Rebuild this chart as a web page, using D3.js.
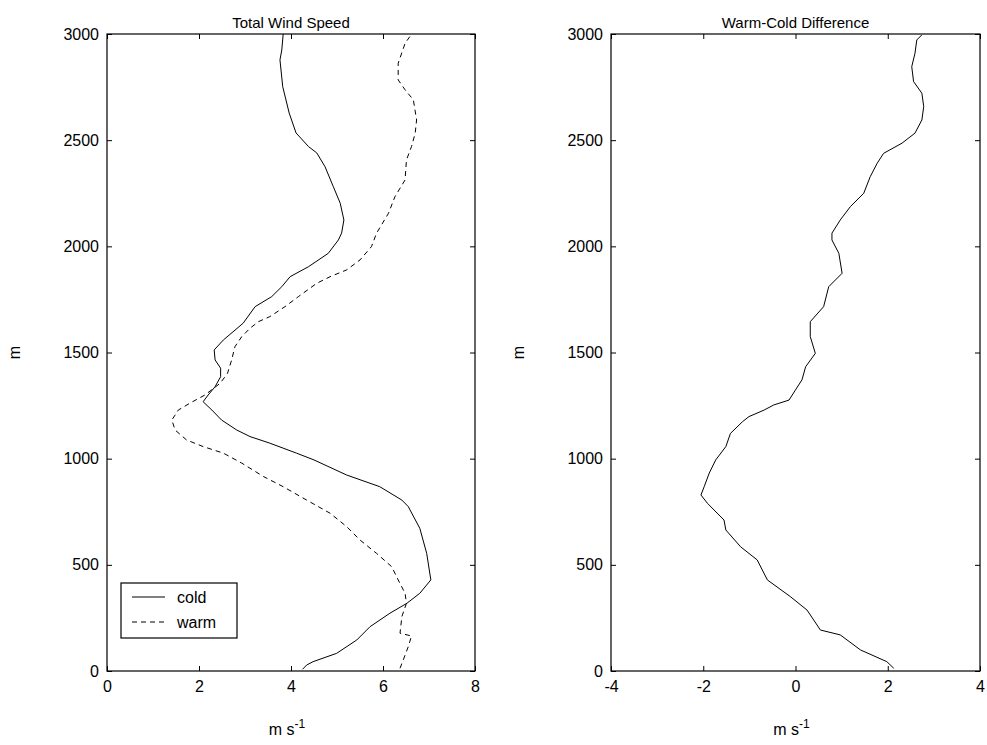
<!DOCTYPE html>
<html>
<head>
<meta charset="utf-8">
<script src="https://cdn.jsdelivr.net/npm/d3@7"></script>
<style>
  body { margin: 0; background: #fff; }
  svg text { font-family: "Liberation Sans", Arial, sans-serif; fill: #000; }
</style>
</head>
<body>
<svg id="fig" width="987" height="745"></svg>
<script>
// ---- data ----
var xTicksSpeed = [0, 2, 4, 6, 8];
var xTicksDiff = [-4, -2, 0, 2, 4];
var yTicks = [0, 500, 1000, 1500, 2000, 2500, 3000];
var legendLabels = ['cold', 'warm'];

// cold: [height m, speed m/s]
var coldHeight = [8, 28, 44, 83, 146, 209, 272, 319, 366, 429, 554, 672, 774, 805, 868, 923, 994, 1026, 1073, 1104, 1135, 1182, 1229, 1268, 1300, 1339, 1386, 1426, 1465, 1512, 1559, 1638, 1716, 1763, 1810, 1857, 1904, 1967, 2030, 2062, 2124, 2203, 2281, 2375, 2440, 2470, 2534, 2628, 2752, 2878, 2925, 3000];
var coldSpeed = [4.25, 4.34, 4.48, 4.99, 5.43, 5.72, 6.15, 6.52, 6.80, 7.04, 6.95, 6.80, 6.55, 6.41, 5.93, 5.21, 4.50, 4.12, 3.54, 3.11, 2.82, 2.49, 2.28, 2.09, 2.20, 2.35, 2.47, 2.47, 2.35, 2.33, 2.53, 2.96, 3.22, 3.58, 3.80, 3.98, 4.38, 4.81, 5.03, 5.10, 5.15, 5.07, 4.92, 4.74, 4.56, 4.38, 4.11, 3.96, 3.82, 3.76, 3.80, 3.83];

// warm
var warmHeight = [13, 52, 115, 165, 178, 256, 319, 366, 429, 491, 554, 617, 680, 743, 805, 868, 916, 979, 1026, 1057, 1088, 1135, 1182, 1229, 1261, 1300, 1355, 1402, 1465, 1527, 1575, 1614, 1645, 1669, 1716, 1763, 1826, 1857, 1889, 1936, 1999, 2062, 2156, 2234, 2313, 2407, 2470, 2533, 2595, 2690, 2737, 2784, 2862, 2956, 2990];
var warmSpeed = [6.37, 6.44, 6.55, 6.62, 6.37, 6.41, 6.51, 6.48, 6.33, 6.19, 5.86, 5.50, 5.21, 4.85, 4.34, 3.83, 3.40, 2.93, 2.53, 2.09, 1.73, 1.48, 1.41, 1.55, 1.80, 2.13, 2.46, 2.62, 2.71, 2.78, 2.93, 3.11, 3.29, 3.54, 3.87, 4.16, 4.56, 4.85, 5.21, 5.50, 5.75, 5.86, 6.12, 6.26, 6.48, 6.51, 6.62, 6.70, 6.73, 6.66, 6.48, 6.33, 6.33, 6.48, 6.59];

// warm - cold difference
var diffHeight = [13, 44, 99, 170, 193, 287, 350, 429, 523, 585, 664, 711, 790, 829, 868, 932, 994, 1057, 1119, 1174, 1198, 1229, 1253, 1276, 1324, 1371, 1433, 1496, 1575, 1645, 1716, 1810, 1873, 1967, 2030, 2062, 2124, 2187, 2250, 2328, 2391, 2438, 2486, 2533, 2595, 2658, 2721, 2776, 2846, 2909, 2972, 2996];
var diffValue = [2.13, 1.98, 1.41, 0.97, 0.54, 0.25, -0.11, -0.61, -0.83, -1.19, -1.51, -1.55, -1.91, -2.05, -1.98, -1.87, -1.73, -1.51, -1.41, -1.15, -1.01, -0.68, -0.47, -0.14, 0.0, 0.14, 0.22, 0.43, 0.32, 0.32, 0.61, 0.72, 1.01, 0.94, 0.79, 0.79, 0.97, 1.19, 1.48, 1.62, 1.77, 1.91, 2.31, 2.59, 2.74, 2.78, 2.74, 2.56, 2.52, 2.59, 2.63, 2.74];

var svg = d3.select('#fig');
var plotTop = 34, plotBottom = 671;

var y = d3.scaleLinear().domain([0, 3000]).range([plotBottom, plotTop]);
var fmt = function (d) { return String(d); };

function drawPanel(left, right, xDomain, xTicks, title) {
  var x = d3.scaleLinear().domain(xDomain).range([left, right]);
  var g = svg.append('g');

  g.append('g')
    .attr('transform', 'translate(0,' + plotBottom + ')')
    .call(d3.axisBottom(x).tickValues(xTicks).tickSize(-5).tickPadding(10).tickFormat(fmt));
  g.append('g')
    .attr('transform', 'translate(0,' + plotTop + ')')
    .call(d3.axisTop(x).tickValues(xTicks).tickSize(-5).tickFormat(''));
  g.append('g')
    .attr('transform', 'translate(' + left + ',0)')
    .call(d3.axisLeft(y).tickValues(yTicks).tickSize(-5).tickPadding(8).tickFormat(fmt));
  g.append('g')
    .attr('transform', 'translate(' + right + ',0)')
    .call(d3.axisRight(y).tickValues(yTicks).tickSize(-5).tickFormat(''));

  g.selectAll('.domain').remove();
  g.selectAll('.tick line').attr('stroke', '#000');
  g.selectAll('.tick text').attr('font-size', 16).attr('fill', '#000');

  g.append('rect')
    .attr('x', left).attr('y', plotTop)
    .attr('width', right - left).attr('height', plotBottom - plotTop)
    .attr('fill', 'none').attr('stroke', '#000').attr('stroke-width', 1.2);

  g.append('text')
    .attr('x', (left + right) / 2).attr('y', 28)
    .attr('text-anchor', 'middle').attr('font-size', 15)
    .text(title);

  var xl = g.append('text')
    .attr('x', (left + right) / 2 - 4).attr('y', 735)
    .attr('text-anchor', 'middle').attr('font-size', 16);
  xl.append('tspan').text('m s');
  xl.append('tspan').attr('dy', -7).attr('font-size', 12).text('-1');

  g.append('text')
    .attr('transform', 'translate(' + (left - 87) + ',' + ((plotTop + plotBottom) / 2) + ') rotate(-90)')
    .attr('text-anchor', 'middle').attr('font-size', 16)
    .text('m');

  return { g: g, x: x };
}

function profile(g, x, hs, vs, dash) {
  var pts = hs.map(function (h, i) { return [vs[i], h]; });
  var line = d3.line()
    .x(function (d) { return x(d[0]); })
    .y(function (d) { return y(d[1]); });
  g.append('path')
    .datum(pts)
    .attr('d', line)
    .attr('fill', 'none')
    .attr('stroke', '#000')
    .attr('stroke-width', 1)
    .attr('stroke-dasharray', dash || null);
}

var p1 = drawPanel(107, 475, [0, 8], xTicksSpeed, 'Total Wind Speed');
profile(p1.g, p1.x, coldHeight, coldSpeed, null);
profile(p1.g, p1.x, warmHeight, warmSpeed, '5,4');

var p2 = drawPanel(611, 980, [-4, 4], xTicksDiff, 'Warm-Cold Difference');
profile(p2.g, p2.x, diffHeight, diffValue, null);

// legend
var lg = p1.g.append('g').attr('transform', 'translate(121,583)');
lg.append('rect')
  .attr('width', 116).attr('height', 55)
  .attr('fill', '#fff').attr('stroke', '#000').attr('stroke-width', 1.2);
legendLabels.forEach(function (name, i) {
  var yy = 14 + i * 25;
  lg.append('line')
    .attr('x1', 11).attr('x2', 44).attr('y1', yy).attr('y2', yy)
    .attr('stroke', '#000')
    .attr('stroke-dasharray', i === 1 ? '5,4' : null);
  lg.append('text')
    .attr('x', 56).attr('y', yy + 6)
    .attr('font-size', 16)
    .text(name);
});
</script>
</body>
</html>
